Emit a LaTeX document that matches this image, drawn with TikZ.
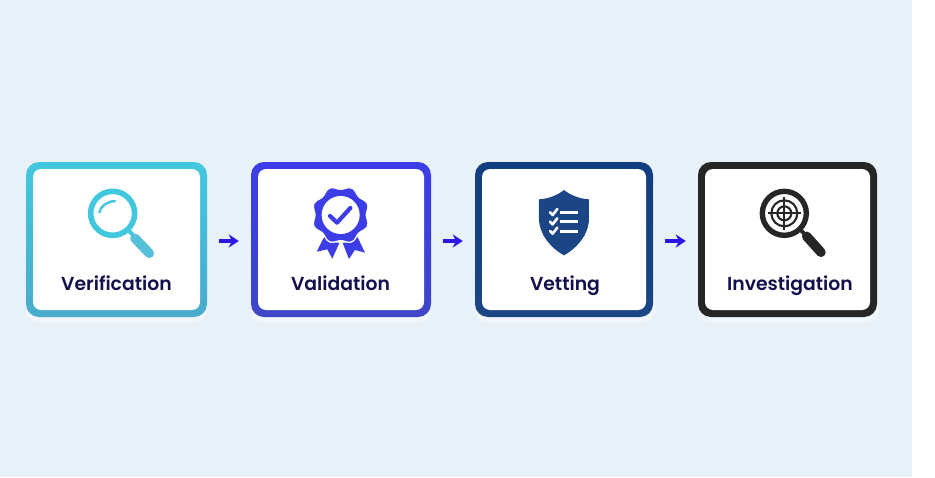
\documentclass[tikz,border=0pt]{standalone}
\usepackage{fontspec}
\setmainfont{Poppins}[BoldFont={Poppins SemiBold}]
\usetikzlibrary{arrows.meta}
\definecolor{bgc}{HTML}{E8F0F8}
\definecolor{txtc}{HTML}{15104C}
\definecolor{arrc}{HTML}{2A18E2}
\definecolor{cyanc}{HTML}{42C8DE}
\definecolor{cyand}{HTML}{4AABCB}
\definecolor{cyanh}{HTML}{54C0DA}
\definecolor{violc}{HTML}{3D3DE8}
\definecolor{violb}{HTML}{3F46C6}
\definecolor{navyc}{HTML}{1B4585}
\definecolor{navyt}{HTML}{123F80}
\definecolor{blackc}{HTML}{262626}
\tikzset{
  x=1pt,y=-1pt,
  outerbox/.style={draw=none,rounded corners=13pt,inner sep=0pt,minimum height=155pt},
  innerbox/.style={draw=none,fill=white,rounded corners=8pt,inner sep=0pt,minimum height=141pt},
  softshadow/.style={fill=white,fill opacity=.35,rounded corners=13pt,draw=none},
  lab/.style={font=\fontsize{18.8}{22}\selectfont\bfseries,text=txtc,inner sep=0pt,anchor=base},
  flow/.style={-{Stealth[length=10pt,width=13pt,inset=3pt]},draw=arrc,line width=3.4pt,shorten >=12pt,shorten <=12pt},
  zoomed/.style={x=0.3333pt,y=-0.3333pt},
}
\begin{document}
\begin{tikzpicture}
\useasboundingbox (0,0) rectangle (935,477);
\fill[white] (0,0) rectangle (935,477);
\fill[bgc] (0,0) rectangle (912,477);
% soft shadows
\fill[softshadow] (26,172) rectangle (207,323);
\fill[softshadow] (251,172) rectangle (431,323);
\fill[softshadow] (475,172) rectangle (655,323);
\fill[softshadow] (698,172) rectangle (879,323);
% boxes
\node[outerbox,minimum width=181pt,top color=cyanc,bottom color=cyand] (o1) at (116.5,239.5) {};
\node[outerbox,minimum width=180pt,top color=violc,bottom color=violb] (o2) at (341,239.5) {};
\node[outerbox,minimum width=178pt,top color=navyt,bottom color=navyc] (o3) at (564,239.5) {};
\node[outerbox,minimum width=179pt,fill=blackc] (o4) at (787.5,239.5) {};
\node[innerbox,minimum width=167pt] (i1) at (o1.center) {};
\node[innerbox,minimum width=166pt] (i2) at (o2.center) {};
\node[innerbox,minimum width=164pt] (i3) at (o3.center) {};
\node[innerbox,minimum width=165pt] (i4) at (o4.center) {};
% labels
\node[lab] (t1) at (116.5,290) {Verification};
\node[lab] (t2) at (340.5,290) {Validation};
\node[lab] (t3) at (565,290) {Vetting};
\node[lab] (t4) at (790,290) {Investigation};
% connectors
\draw[flow] ([yshift=-1.5pt]o1.east) -- ([yshift=-1.5pt]o2.west);
\draw[flow] ([yshift=-1.5pt]o2.east) -- ([yshift=-1.5pt]o3.west);
\draw[flow] ([yshift=-1.5pt]o3.east) -- ([yshift=-1.5pt]o4.west);
% icon 1: magnifier
\begin{scope}[shift={(15,150)},zoomed]
  \draw[cyanc,line width=5.6pt] (293,190) circle[radius=66];
  \draw[cyanc,line width=2.5pt,line cap=round] (253,187) .. controls (257,167) and (277,155) .. (300,153);
  \draw[cyanc,line width=4pt] (340,240) -- (360,262);
  \draw[cyanh,line width=9.5pt,line cap=round] (360,265) -- (403,310);
\end{scope}
% icon 2: rosette
\begin{scope}[shift={(240,150)},zoomed]
  \fill[violc] (254,258) .. controls (265,270) and (280,277) .. (298,279) -- (277,326) -- (262,298) -- (230,305) -- cycle;
  \fill[violc] (351,258) .. controls (340,270) and (325,277) .. (308,279) -- (327,327) -- (345,300) -- (375,308) -- cycle;
  \filldraw[fill=violc,draw=white,line width=1.3pt] plot[domain=0:360,samples=120,smooth] ({302+(82-5*cos(8*\x))*cos(\x)},{195+(82-5*cos(8*\x))*sin(\x)}) -- cycle;
  \fill[white] (302,195) circle[radius=57];
  \draw[violc,line width=4.2pt,line cap=round,line join=round] (270,198) -- (291,218) -- (331,174);
\end{scope}
% icon 3: shield
\begin{scope}[shift={(465,150)},zoomed]
  \fill[navyc] (297,120) .. controls (315,135) and (345,147) .. (372,148)
     -- (372,205) .. controls (372,255) and (335,295) .. (297,316)
     .. controls (259,295) and (222,255) .. (222,205) -- (222,148)
     .. controls (249,147) and (279,135) .. (297,120) -- cycle;
  \foreach \yy in {187,215,243}{
    \draw[white,line width=2.6pt,line cap=round,line join=round] (255,\yy) -- (263,\yy+8) -- (277,\yy-10);
    \draw[white,line width=3pt] (285,\yy+1) -- (339,\yy+1);
  }
\end{scope}
% icon 4: target magnifier
\begin{scope}[shift={(690,150)},zoomed]
  \draw[blackc,line width=5.4pt] (283,190) circle[radius=66];
  \draw[blackc,line width=2.1pt] (283,190) circle[radius=39];
  \draw[blackc,line width=2.1pt] (283,190) circle[radius=21];
  \draw[blackc,line width=1.9pt] (283,141) -- (283,239);
  \draw[blackc,line width=1.9pt] (234,190) -- (332,190);
  \draw[blackc,line width=4pt] (332,240) -- (350,258);
  \draw[blackc,line width=9.5pt,line cap=round] (350,259) -- (393,307);
\end{scope}
\end{tikzpicture}
\end{document}
